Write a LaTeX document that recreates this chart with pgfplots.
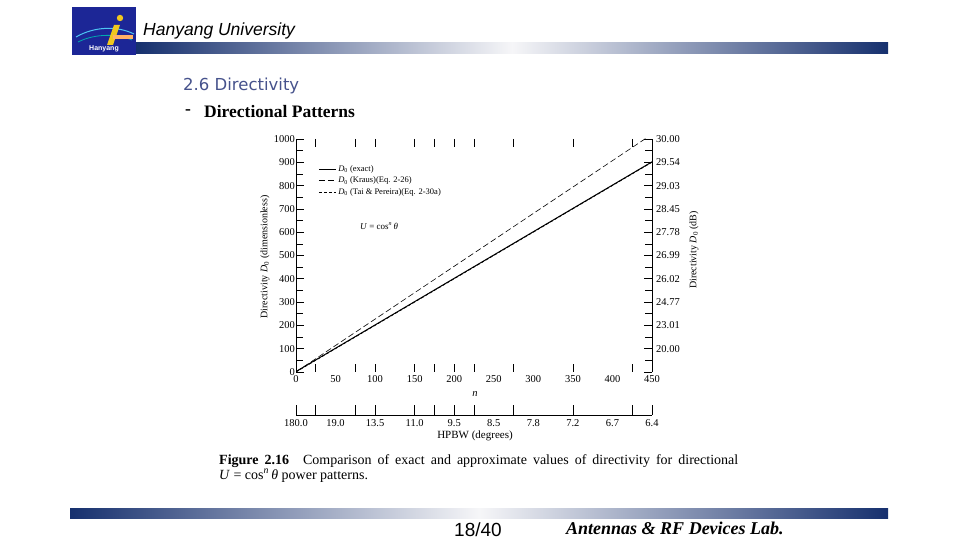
\documentclass[border=0pt]{standalone}
\usepackage{fontspec}
\setmainfont{Liberation Serif}
\setsansfont{Liberation Sans}
\newfontfamily\titlefont{DejaVu Sans}
\usepackage{pgfplots}
\pgfplotsset{compat=1.18}
\definecolor{navy}{RGB}{22,48,110}
\definecolor{barlight}{RGB}{246,246,248}
\definecolor{titleblue}{RGB}{70,82,140}
\definecolor{logoblue}{RGB}{28,38,150}
\definecolor{logoyellow}{RGB}{240,200,30}

\begin{document}
\begin{tikzpicture}[x=1pt,y=1pt]
% page
\path[fill=white] (0,0) rectangle (960,540);

% logo
\fill[logoblue] (72,485) rectangle (136,533);
\draw[cyan!70, line width=1pt] (76,503) .. controls (95,514) and (118,514) .. (134,506);
\draw[cyan!60!green, line width=0.8pt] (78,498) .. controls (96,507) and (118,506) .. (132,500);
\fill[logoyellow] (120,522) circle (3.2);
\fill[logoyellow] (114,515) -- (120,515) -- (113,495) -- (107,495) -- cycle;
\fill[orange!60] (113,501) rectangle (133,505);
\node[text=white, font=\sffamily\bfseries\fontsize{7}{8}\selectfont, inner sep=0] at (104,491) {Hanyang};

% header
\node[anchor=west, inner sep=0, font=\sffamily\itshape\fontsize{17.5}{20}\selectfont] at (143,509) {Hanyang University};
\shade[left color=navy, right color=navy, middle color=barlight] (136,486) rectangle (888,497);
\node[anchor=west, inner sep=0, text=titleblue, font=\titlefont\fontsize{16.5}{19}\selectfont] at (183,454) {2.6 Directivity};
\node[anchor=west, inner sep=0, font=\bfseries\fontsize{17.5}{20}\selectfont] at (185,428) {-};
\node[anchor=west, inner sep=0, font=\bfseries\fontsize{17.5}{20}\selectfont] at (204,428) {Directional Patterns};

% footer
\shade[left color=navy, right color=navy, middle color=barlight] (70,21) rectangle (888,31);
\node[anchor=base, inner sep=0, font=\sffamily\fontsize{19}{21}\selectfont] at (478,3) {18/40};
\node[anchor=base west, inner sep=0, font=\bfseries\itshape\fontsize{18}{20}\selectfont] at (566,5) {Antennas \& RF Devices Lab.};

% main axis with data
\begin{axis}[
  at={(296pt,168pt)}, anchor=south west,
  width=356pt, height=233pt, scale only axis,
  xmin=0, xmax=450, ymin=0, ymax=1000,
  separate axis lines,
  every outer x axis line/.append style={draw=none},
  axis line style={line width=0.7pt},
  xtick={25,75,100,150,175,200,225,275,350,425}, xticklabels={},
  ytick={0,100,...,1000}, minor ytick={50,150,...,950},
  yticklabels={0,100,200,300,400,500,600,700,800,900,1000},
  yticklabel style={font=\fontsize{10.5}{12}\selectfont, inner sep=1pt},
  tick align=inside, major tick length=8pt, minor tick length=7pt,
  tick style={black, line width=0.6pt},
  legend style={draw=none, fill=none, at={(0.062,0.895)}, anchor=north west,
    font=\fontsize{8.5}{10}\selectfont, inner sep=0pt, row sep=0pt},
  legend cell align=left,
]
\addplot[black, line width=1pt] coordinates {
  (0,2)(1,4)(2,6)(5,12)(10,22)(20,42)(50,102)(100,202)(150,302)(200,402)
  (250,502)(300,602)(350,702)(400,802)(450,902)
};
\addlegendentry{\textit{D}\textsubscript{0} (exact)}
\addplot[black, line width=0.6pt, dash pattern=on 6pt off 3pt] coordinates {
  (0,1.27)(1,2.87)(2,5.09)(5,11.87)(10,23.19)(20,45.84)(50,113.8)(100,227.1)
  (150,340.4)(200,453.7)(250,567.0)(300,680.4)(350,793.7)(400,907.0)(450,1020.3)
};
\addlegendentry{\textit{D}\textsubscript{0} (Kraus)(Eq. 2-26)}
\addplot[black, line width=0.8pt, dash pattern=on 3pt off 2pt] coordinates {
  (0,1.12)(1,2.53)(2,4.50)(5,10.47)(10,20.46)(20,40.45)(50,100.5)(100,200.5)
  (150,300.4)(200,400.4)(250,500.4)(300,600.5)(350,700.5)(400,800.5)(450,900.5)
};
\addlegendentry{\textit{D}\textsubscript{0} (Tai \& Pereira)(Eq. 2-30a)}
\node[font=\fontsize{9}{11}\selectfont] at (axis cs:105,627) {\textit{U} = cos\textsuperscript{\textit{n}}\,\textit{θ}};
\end{axis}

% n tick labels
\begin{axis}[
  at={(296pt,168pt)}, anchor=south west,
  width=356pt, height=233pt, scale only axis,
  xmin=0, xmax=450, ymin=0, ymax=1000,
  axis line style={draw=none}, tick style={draw=none},
  xtick={0,50,...,450}, ytick=\empty,
  xticklabels={0,50,100,150,200,250,300,350,400,450},
  xticklabel style={font=\fontsize{10.5}{12}\selectfont, inner sep=1pt, yshift=-2pt},
]
\end{axis}

% dB labels on the right
\begin{axis}[
  at={(296pt,168pt)}, anchor=south west,
  width=356pt, height=233pt, scale only axis,
  xmin=0, xmax=450, ymin=0, ymax=1000,
  axis line style={draw=none}, tick style={draw=none},
  xtick=\empty, ytick={100,200,...,1000}, yticklabel pos=right,
  yticklabels={20.00,23.01,24.77,26.02,26.99,27.78,28.45,29.03,29.54,30.00},
  yticklabel style={font=\fontsize{10.5}{12}\selectfont, inner sep=1pt, xshift=3pt},
]
\end{axis}

% HPBW axis
\begin{axis}[
  at={(296pt,125pt)}, anchor=south west,
  width=356pt, height=10pt, scale only axis,
  xmin=0, xmax=450, ymin=0, ymax=1,
  axis x line=bottom, axis y line=none,
  x axis line style={-, line width=0.7pt},
  xtick={0,25,75,100,150,175,200,225,275,350,425,450}, xticklabels={},
  tick align=inside, major tick length=10pt,
  tick style={black, line width=0.6pt},
]
\end{axis}
\begin{axis}[
  at={(296pt,125pt)}, anchor=south west,
  width=356pt, height=10pt, scale only axis,
  xmin=0, xmax=450, ymin=0, ymax=1,
  axis line style={draw=none}, tick style={draw=none},
  xtick={0,50,...,450}, ytick=\empty, xtick pos=bottom,
  xticklabels={180.0,19.0,13.5,11.0,9.5,8.5,7.8,7.2,6.7,6.4},
  xticklabel style={font=\fontsize{10.5}{12}\selectfont, inner sep=1pt, yshift=-3pt},
]
\end{axis}

% axis titles
\node[font=\itshape\fontsize{10.5}{12}\selectfont] at (475,146) {n};
\node[font=\fontsize{11}{13}\selectfont] at (475,104) {HPBW (degrees)};
\node[rotate=90, font=\fontsize{10}{12}\selectfont] at (265,283) {Directivity \textit{D}\textsubscript{0} (dimensionless)};
\node[rotate=90, font=\fontsize{10}{12}\selectfont] at (694,290) {Directivity \textit{D}\textsubscript{0} (dB)};

% caption
\node[anchor=north west, inner sep=0, text width=519pt, align=justify,
  font=\fontsize{14}{15}\selectfont] at (219,86)
  {\textbf{Figure 2.16}\quad Comparison of exact and approximate values of directivity for directional\linebreak \textit{U} = cos\textsuperscript{\textit{n}}\,\textit{θ} power patterns.};
\end{tikzpicture}
\end{document}
